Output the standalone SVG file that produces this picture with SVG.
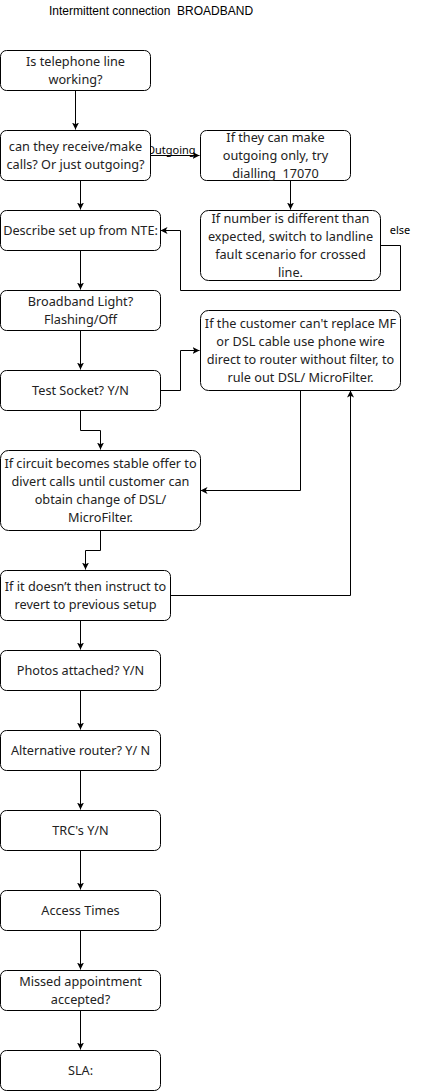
<svg xmlns="http://www.w3.org/2000/svg" width="422" height="1092" viewBox="0 0 422 1092">
<style>
.box{fill:#fff;stroke:#000;stroke-width:1}
.t{font-family:"Noto Sans","Open Sans",sans-serif;font-size:12.7px;fill:#222;text-anchor:middle}
.lbl{font-family:"Noto Sans","Open Sans",sans-serif;font-size:11px;fill:#000;text-anchor:middle}
.title{font-family:"Liberation Sans",Arial,sans-serif;font-size:12px;fill:#000}
.c{fill:none;stroke:#000;stroke-width:1;marker-end:url(#arr)}
</style>
<defs>
<marker id="arr" markerUnits="userSpaceOnUse" markerWidth="9" markerHeight="9" refX="7" refY="3.5" orient="auto">
<path d="M0,0 L7,3.5 L0,7 L1.8,3.5 z" fill="#000"/>
</marker>
</defs>
<rect width="422" height="1092" fill="#fff"/>
<text class="title" x="49" y="15" xml:space="preserve">Intermittent connection  BROADBAND</text>
<g id="connectors">
<polyline class="c" points="75.5,90.5 75.5,129.5"/>
<polyline class="c" points="80.5,180.5 80.5,209.5"/>
<polyline class="c" points="150.5,155.5 199.5,155.5"/>
<polyline class="c" points="290.5,180.5 290.5,209.5"/>
<polyline class="c" points="380.5,245.5 400.5,245.5 400.5,290.5 180.5,290.5 180.5,230.5 160.5,230.5"/>
<polyline class="c" points="80.5,250.5 80.5,289.5"/>
<polyline class="c" points="80.5,330.5 80.5,369.5"/>
<polyline class="c" points="160.5,390.5 180.5,390.5 180.5,350.5 199.5,350.5"/>
<polyline class="c" points="80.5,410.5 80.5,430.5 100.5,430.5 100.5,449.5"/>
<polyline class="c" points="300.5,390.5 300.5,490.5 200.5,490.5"/>
<polyline class="c" points="100.5,530.5 100.5,550.5 85.5,550.5 85.5,569.5"/>
<polyline class="c" points="170.5,595.5 350.5,595.5 350.5,390.5"/>
<polyline class="c" points="80.5,620.5 80.5,649.5"/>
<polyline class="c" points="80.5,690.5 80.5,729.5"/>
<polyline class="c" points="80.5,770.5 80.5,809.5"/>
<polyline class="c" points="80.5,850.5 80.5,889.5"/>
<polyline class="c" points="80.5,930.5 80.5,969.5"/>
<polyline class="c" points="80.5,1010.5 80.5,1049.5"/>
<text class="lbl" x="171" y="154">Outgoing</text>
<text class="lbl" x="400" y="234">else</text>
</g>
<g id="n1"><rect class="box" x="0.5" y="50.5" width="150" height="40" rx="6"/>
<text class="t" x="75.5" y="65.5">Is telephone line</text><text class="t" x="75.5" y="83.5">working?</text></g>
<g id="n2"><rect class="box" x="0.5" y="130.5" width="150" height="50" rx="6"/>
<text class="t" x="75.5" y="150.5">can they receive/make</text><text class="t" x="75.5" y="168.5">calls? Or just outgoing?</text></g>
<g id="n3"><rect class="box" x="200.5" y="130.5" width="150" height="50" rx="6"/>
<text class="t" x="275.5" y="141.5">If they can make</text><text class="t" x="275.5" y="159.5">outgoing only, try</text><text class="t" x="275.5" y="177.5" xml:space="preserve">dialling  17070</text></g>
<g id="n4"><rect class="box" x="200.5" y="210.5" width="180" height="70" rx="8"/>
<text class="t" x="290.5" y="222.5">If number is different than</text><text class="t" x="290.5" y="240.5">expected, switch to landline</text><text class="t" x="290.5" y="258.5">fault scenario for crossed</text><text class="t" x="290.5" y="276.5">line.</text></g>
<g id="n5"><rect class="box" x="0.5" y="210.5" width="160" height="40" rx="6"/>
<text class="t" x="80.5" y="234.5">Describe set up from NTE:</text></g>
<g id="n6"><rect class="box" x="0.5" y="290.5" width="160" height="40" rx="6"/>
<text class="t" x="80.5" y="305.5">Broadband Light?</text><text class="t" x="80.5" y="323.5">Flashing/Off</text></g>
<g id="n7"><rect class="box" x="0.5" y="370.5" width="160" height="40" rx="6"/>
<text class="t" x="80.5" y="394.5">Test Socket? Y/N</text></g>
<g id="n8"><rect class="box" x="200.5" y="310.5" width="200" height="80" rx="8"/>
<text class="t" x="300.5" y="327.5">If the customer can't replace MF</text><text class="t" x="300.5" y="345.5">or DSL cable use phone wire</text><text class="t" x="300.5" y="363.5">direct to router without filter, to</text><text class="t" x="300.5" y="381.5">rule out DSL/ MicroFilter.</text></g>
<g id="n9"><rect class="box" x="0.5" y="450.5" width="200" height="80" rx="8"/>
<text class="t" x="100.5" y="467.5">If circuit becomes stable offer to</text><text class="t" x="100.5" y="485.5">divert calls until customer can</text><text class="t" x="100.5" y="503.5">obtain change of DSL/</text><text class="t" x="100.5" y="521.5">MicroFilter.</text></g>
<g id="n10"><rect class="box" x="0.5" y="570.5" width="170" height="50" rx="6"/>
<text class="t" x="85.5" y="590.5">If it doesn’t then instruct to</text><text class="t" x="85.5" y="608.5">revert to previous setup</text></g>
<g id="n11"><rect class="box" x="0.5" y="650.5" width="160" height="40" rx="6"/>
<text class="t" x="80.5" y="674.5">Photos attached? Y/N</text></g>
<g id="n12"><rect class="box" x="0.5" y="730.5" width="160" height="40" rx="6"/>
<text class="t" x="80.5" y="754.5">Alternative router? Y/ N</text></g>
<g id="n13"><rect class="box" x="0.5" y="810.5" width="160" height="40" rx="6"/>
<text class="t" x="80.5" y="834.5">TRC's Y/N</text></g>
<g id="n14"><rect class="box" x="0.5" y="890.5" width="160" height="40" rx="6"/>
<text class="t" x="80.5" y="914.5">Access Times</text></g>
<g id="n15"><rect class="box" x="0.5" y="970.5" width="160" height="40" rx="6"/>
<text class="t" x="80.5" y="985.5">Missed appointment</text><text class="t" x="80.5" y="1003.5">accepted?</text></g>
<g id="n16"><rect class="box" x="0.5" y="1050.5" width="160" height="40" rx="6"/>
<text class="t" x="80.5" y="1074.5">SLA:</text></g>
</svg>
